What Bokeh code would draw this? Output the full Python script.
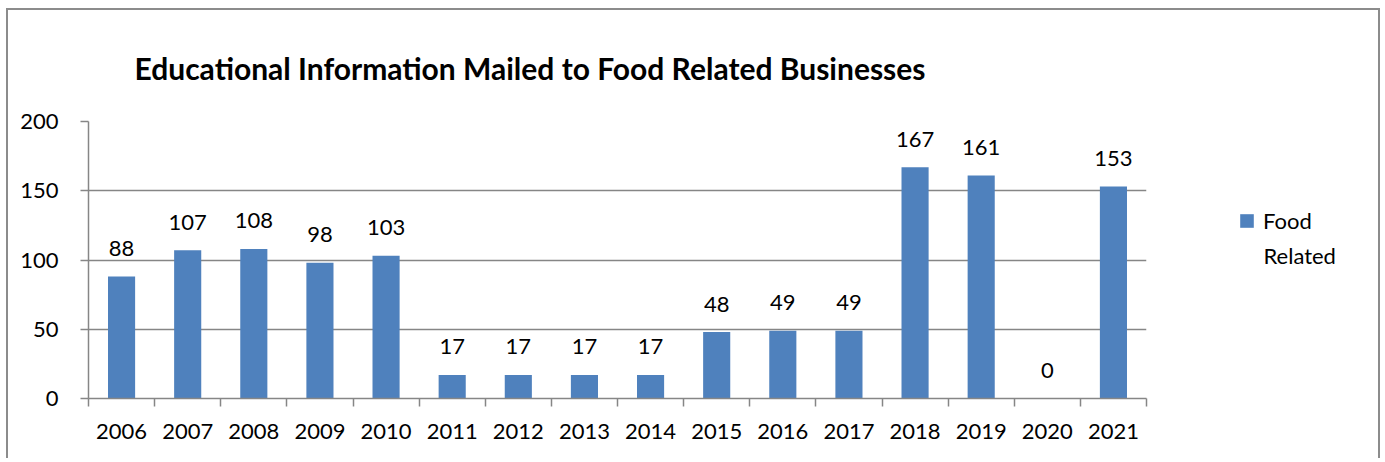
from bokeh.plotting import figure
from bokeh.layouts import row
from bokeh.models import Range1d, FixedTicker, ColumnDataSource, Legend, LegendItem, Label
from bokeh.embed import file_html
from bokeh.resources import INLINE
from bokeh.core.properties import value

# ---- data ----
years = ["2006", "2007", "2008", "2009", "2010", "2011", "2012", "2013",
         "2014", "2015", "2016", "2017", "2018", "2019", "2020", "2021"]
counts = [88, 107, 108, 98, 103, 17, 17, 17, 17, 48, 49, 49, 167, 161, 0, 153]
y_ticks = [0, 50, 100, 150, 200]
series_name_lines = ["Food", "Related"]
title_text = "Educational Information Mailed to Food Related Businesses"

FONT = "Lato"
BAR = "#4F81BD"
GRID = "#868686"

centers = [i + 0.5 for i in range(len(years))]
edges = list(range(len(years) + 1))

src = ColumnDataSource(dict(x=centers, top=counts, label=[str(c) for c in counts]))

p = figure(width=1142, height=448, x_range=Range1d(0, len(years)), y_range=Range1d(0, 200),
           output_backend="svg", toolbar_location=None,
           min_border_left=80, min_border_right=4, min_border_top=111, min_border_bottom=60)
p.outline_line_color = None
p.background_fill_color = "white"
p.border_fill_color = "white"

p.title.text = title_text
p.title.text_font = FONT
p.title.text_font_size = "30px"
p.title.text_font_style = "bold"
p.title.text_color = "black"
p.title.align = "left"
p.title.offset = 46
p.title.standoff = 72

bars = p.vbar(x="x", top="top", width=0.41, source=src, fill_color=BAR, line_color=None)
p.text(x="x", y="top", text="label", source=src, text_align="center", text_baseline="alphabetic",
       y_offset=-28, text_font=value(FONT), text_font_size="22px", text_color="black")

# y axis
p.yaxis.ticker = FixedTicker(ticks=y_ticks)
p.yaxis.major_tick_out = 8
p.yaxis.major_tick_in = 0
p.yaxis.minor_tick_line_color = None
p.yaxis.axis_line_color = GRID
p.yaxis.axis_line_width = 1.5
p.yaxis.major_tick_line_color = GRID
p.yaxis.major_tick_line_width = 1.5
p.yaxis.major_label_text_font = FONT
p.yaxis.major_label_text_font_size = "22px"
p.yaxis.major_label_text_color = "black"
p.yaxis.major_label_standoff = 22

# x axis
p.xaxis.ticker = FixedTicker(ticks=centers, minor_ticks=edges)
p.xaxis.major_label_overrides = {c: y for c, y in zip(centers, years)}
p.xaxis.major_tick_line_color = None
p.xaxis.major_tick_out = 0
p.xaxis.major_tick_in = 0
p.xaxis.minor_tick_out = 8
p.xaxis.minor_tick_in = 0
p.xaxis.minor_tick_line_color = GRID
p.xaxis.minor_tick_line_width = 1.5
p.xaxis.axis_line_color = GRID
p.xaxis.axis_line_width = 1.5
p.xaxis.major_label_text_font = FONT
p.xaxis.major_label_text_font_size = "22px"
p.xaxis.major_label_text_color = "black"
p.xaxis.major_label_standoff = 17

p.xgrid.visible = False
p.ygrid.ticker = FixedTicker(ticks=y_ticks)
p.ygrid.grid_line_color = GRID
p.ygrid.grid_line_width = 1.5

# legend panel (separate figure to the right of the plot area; its frame is
# aligned by the row layout with the main frame, 277 px tall)
PW, PH = 228, 277
pl = figure(width=PW, height=448, x_range=Range1d(0, PW), y_range=Range1d(0, PH),
            output_backend="svg", toolbar_location=None, min_border=0,
            x_axis_location=None, y_axis_location=None)
pl.grid.visible = False
pl.outline_line_color = None
pl.background_fill_color = "white"
pl.border_fill_color = "white"
swatch = pl.vbar(x="x", top="top", source=src, width=0.41, fill_color=BAR, line_color=None,
                 visible=False)

legend = Legend(items=[LegendItem(label=series_name_lines[0], renderers=[swatch])],
                location=(88, 164), border_line_color=None, background_fill_alpha=0,
                label_text_font=FONT, label_text_font_size="22px", label_text_color="black",
                glyph_width=17, glyph_height=17, label_standoff=8, padding=0, margin=0)
pl.add_layout(legend, "center")
pl.add_layout(Label(x=113, y=143, text=series_name_lines[1], text_font=FONT,
                    text_font_size="22px", text_color="black", text_baseline="middle",
                    text_align="left"))

layout = row(p, pl)
layout.styles = {"border": "2px solid #8c8c8c", "border-bottom": "none",
                 "margin-left": "6px", "margin-top": "8px"}

open("out.html", "w").write(file_html(layout, INLINE))
